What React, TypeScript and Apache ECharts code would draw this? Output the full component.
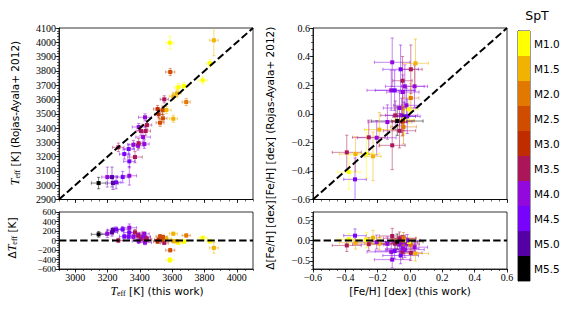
import React, { useEffect, useRef } from 'react';
import * as echarts from 'echarts';

// ---------- data ----------
const SPT_LABELS = ['M1.0', 'M1.5', 'M2.0', 'M2.5', 'M3.0', 'M3.5', 'M4.0', 'M4.5', 'M5.0', 'M5.5'];
// gnuplot colormap sampled at 10 discrete levels
const SPT_RGB: number[][] = [
  [255, 255, 0], [240, 179, 0], [225, 120, 0], [208, 76, 0], [190, 44, 0],
  [170, 22, 87], [147, 9, 221], [120, 3, 251], [85, 0, 164], [0, 0, 0],
];

// Teff: this work vs Rojas-Ayala+ 2012
const teffThis = [3586, 3858, 3834, 3588, 3789, 3673, 3638, 3607, 3630, 3687, 3551, 3564, 3510, 3541, 3516, 3543, 3607, 3525, 3432, 3444, 3436, 3407, 3393, 3420, 3389, 3393, 3428, 3360, 3267, 3331, 3304, 3370, 3335, 3335, 3294, 3199, 3228, 3253, 3234, 3145];
const teffThisErr = [25, 28, 22, 28, 28, 25, 25, 25, 25, 25, 25, 30, 25, 25, 25, 25, 25, 25, 40, 30, 30, 30, 40, 45, 35, 30, 30, 35, 35, 35, 30, 45, 35, 45, 35, 35, 35, 30, 35, 45];
const teffRA = [3997, 4014, 3853, 3792, 3734, 3694, 3685, 3622, 3643, 3582, 3601, 3526, 3533, 3524, 3496, 3468, 3465, 3437, 3475, 3421, 3379, 3379, 3407, 3337, 3276, 3293, 3288, 3283, 3265, 3253, 3218, 3197, 3167, 3066, 3057, 3057, 3057, 3020, 3015, 3015];
const teffRAErr = [45, 108, 25, 25, 25, 25, 25, 25, 25, 25, 25, 25, 25, 30, 25, 25, 25, 25, 25, 30, 30, 30, 25, 35, 30, 35, 30, 30, 30, 35, 35, 40, 45, 65, 40, 70, 70, 45, 45, 40];
const teffSpt = [0, 1, 0, 3, 0, 0, 0, 1, 1, 2, 5, 1, 4, 3, 4, 3, 1, 3, 6, 5, 5, 5, 6, 6, 6, 5, 6, 6, 5, 7, 7, 5, 7, 6, 7, 6, 8, 7, 8, 9];

// [Fe/H]: this work vs Rojas-Ayala+ 2012
const fehThis = [-0.110, -0.058, 0.005, 0.034, -0.046, 0.028, -0.032, -0.116, -0.095, -0.044, 0.005, -0.022, -0.065, -0.007, -0.091, -0.052, -0.036, -0.017, -0.036, -0.048, -0.044, -0.079, -0.140, -0.040, -0.065, -0.190, -0.206, -0.255, -0.110, -0.391, -0.337, -0.229, -0.378, -0.340, -0.270];
const fehThisErr = [0.11, 0.11, 0.07, 0.08, 0.06, 0.08, 0.12, 0.15, 0.12, 0.10, 0.05, 0.08, 0.10, 0.06, 0.09, 0.10, 0.07, 0.08, 0.06, 0.06, 0.07, 0.16, 0.12, 0.08, 0.10, 0.09, 0.12, 0.10, 0.08, 0.09, 0.10, 0.05, 0.07, 0.07, 0.08];
const fehRA = [0.360, 0.311, 0.311, 0.353, 0.231, 0.192, 0.192, 0.164, 0.164, 0.152, 0.110, 0.059, 0.040, 0.031, -0.011, -0.011, -0.019, -0.018, -0.039, -0.056, -0.050, -0.051, -0.058, -0.092, -0.119, -0.111, -0.168, -0.165, -0.221, -0.270, -0.282, -0.298, -0.408, -0.459, -0.280];
const fehRAErr = [0.17, 0.17, 0.17, 0.17, 0.17, 0.15, 0.15, 0.14, 0.14, 0.12, 0.10, 0.12, 0.12, 0.10, 0.10, 0.12, 0.10, 0.12, 0.10, 0.10, 0.10, 0.10, 0.12, 0.12, 0.12, 0.12, 0.12, 0.12, 0.17, 0.12, 0.12, 0.17, 0.12, 0.15, 0.17];
const fehSpt = [6, 7, 5, 1, 5, 6, 6, 6, 7, 6, 2, 6, 6, 0, 5, 6, 8, 7, 0, 3, 4, 9, 6, 2, 5, 1, 6, 5, 5, 5, 1, 1, 0, 7, 0];

// axis ranges and tick values
const TEFF_RANGE = [2900, 4100];
const DTEFF_RANGE = [-600, 600];
const FEH_RANGE = [-0.6, 0.6];
const DFEH_RANGE = [-0.7, 0.7];
const teffXTicks = [3000, 3200, 3400, 3600, 3800, 4000];
const teffYTicks = [2900, 3000, 3100, 3200, 3300, 3400, 3500, 3600, 3700, 3800, 3900, 4000, 4100];
const dTeffTicks = [-600, -400, -200, 0, 200, 400, 600];
const fehTicks = [-0.6, -0.4, -0.2, 0, 0.2, 0.4, 0.6];
const dFehTicks = [-0.5, 0, 0.5];

// ---------- helpers ----------
const SERIF = "'Liberation Serif', 'DejaVu Serif', serif";
const SANS = "'DejaVu Sans', sans-serif";
const rgba = (c: number[], a: number) => `rgba(${c[0]},${c[1]},${c[2]},${a})`;
const minus = (s: string) => s.replace('-', '\u2212');
const fmtInt = (v: number) => minus(String(Math.round(v)));
const fmt1 = (v: number) => minus((Math.abs(v) < 1e-9 ? 0 : v).toFixed(1));

function axisPair(dim: 'x' | 'y', gridIndex: number, range: number[], majors: number[], minorInterval: number, showLabels: boolean, fmt: (v: number) => string, fontSize = 10) {
  const position = dim === 'x' ? 'bottom' : 'left';
  const major = {
    type: 'value', gridIndex, min: range[0], max: range[1], position, offset: 0,
    axisLine: { show: true, onZero: false, lineStyle: { color: '#000', width: 0.8 } },
    axisTick: { show: true, customValues: majors, length: 3.5, lineStyle: { color: '#000', width: 0.8 } },
    axisLabel: {
      show: showLabels, customValues: majors, formatter: fmt, fontFamily: SERIF, fontSize, color: '#000', margin: 3,
      showMinLabel: true, showMaxLabel: true, hideOverlap: false, lineHeight: fontSize, interval: 0,
    },
    splitLine: { show: false },
  };
  const minor = {
    type: 'value', gridIndex, min: range[0], max: range[1], interval: minorInterval, position, offset: 0,
    axisLine: { show: false, onZero: false },
    axisTick: { show: true, length: 2, lineStyle: { color: '#000', width: 0.6 } },
    axisLabel: { show: false },
    splitLine: { show: false },
  };
  return [major, minor];
}

function errRender(params: any, api: any) {
  const x = api.value(0), y = api.value(1), xe = api.value(2), ye = api.value(3), c = api.value(4);
  const style = { stroke: rgba(SPT_RGB[c], 0.5), lineWidth: 1, fill: null };
  const a = api.coord([x - xe, y]), b = api.coord([x + xe, y]);
  const d = api.coord([x, y - ye]), u = api.coord([x, y + ye]);
  const cap = 1.6;
  const ln = (x1: number, y1: number, x2: number, y2: number) => ({ type: 'line', shape: { x1, y1, x2, y2 }, style });
  return {
    type: 'group',
    children: [
      ln(a[0], a[1], b[0], b[1]),
      ln(d[0], d[1], u[0], u[1]),
      ln(a[0], a[1] - cap, a[0], a[1] + cap),
      ln(b[0], b[1] - cap, b[0], b[1] + cap),
      ln(d[0] - cap, d[1], d[0] + cap, d[1]),
      ln(u[0] - cap, u[1], u[0] + cap, u[1]),
    ],
  };
}

function panelSeries(g: number, xs: number[], xe: number[], ys: number[], ye: number[], spt: number[], refLine: number[][]) {
  return [
    {
      type: 'custom', xAxisIndex: 2 * g, yAxisIndex: 2 * g, renderItem: errRender, clip: true, z: 1,
      encode: { x: 0, y: 1 },
      data: xs.map((x, i) => [x, ys[i], xe[i], ye[i], spt[i]]),
    },
    {
      type: 'scatter', xAxisIndex: 2 * g, yAxisIndex: 2 * g, symbol: 'rect', symbolSize: 4, z: 2, clip: true,
      data: xs.map((x, i) => [x, ys[i], spt[i]]),
      itemStyle: { color: (p: any) => rgba(SPT_RGB[p.value[2]], 1), opacity: 1 },
    },
    {
      type: 'line', xAxisIndex: 2 * g, yAxisIndex: 2 * g, z: 3, symbol: 'none', silent: true,
      data: refLine,
      lineStyle: { color: '#000', width: 2, type: [7.4, 3.2] },
    },
  ];
}

export default function App() {
  const ref = useRef<HTMLDivElement>(null);
  useEffect(() => {
    if (!ref.current) return;
    const chart = echarts.init(ref.current, undefined, { renderer: 'svg' });

    const dTeff = teffThis.map((v, i) => v - teffRA[i]);
    const dTeffErr = teffThis.map((_, i) => Math.sqrt(teffThisErr[i] ** 2 + teffRAErr[i] ** 2));
    const dFeh = fehThis.map((v, i) => v - fehRA[i]);
    const dFehErr = fehThis.map((_, i) => Math.sqrt(fehThisErr[i] ** 2 + fehRAErr[i] ** 2));

    const gridBase = { show: true, borderColor: '#000', borderWidth: 0.8, backgroundColor: 'transparent', containLabel: false };
    const grids = [
      { ...gridBase, left: 59, top: 28, width: 194, height: 171.5 },
      { ...gridBase, left: 59, top: 212, width: 194, height: 57 },
      { ...gridBase, left: 313, top: 28, width: 194, height: 171.5 },
      { ...gridBase, left: 313, top: 212, width: 194, height: 57 },
      { ...gridBase, left: 518, top: 31, width: 12, height: 250 },
    ];

    const xAxes: any[] = [
      ...axisPair('x', 0, TEFF_RANGE, teffXTicks, 50, false, fmtInt),
      ...axisPair('x', 1, TEFF_RANGE, teffXTicks, 50, true, fmtInt),
      ...axisPair('x', 2, FEH_RANGE, fehTicks, 0.05, false, fmt1),
      ...axisPair('x', 3, FEH_RANGE, fehTicks, 0.05, true, fmt1),
      { type: 'value', gridIndex: 4, min: 0, max: 1, show: false },
    ];
    const yAxes: any[] = [
      ...axisPair('y', 0, TEFF_RANGE, teffYTicks, 20, true, fmtInt),
      ...axisPair('y', 1, DTEFF_RANGE, dTeffTicks, 50, true, fmtInt, 9),
      ...axisPair('y', 2, FEH_RANGE, fehTicks, 0.05, true, fmt1),
      ...axisPair('y', 3, DFEH_RANGE, dFehTicks, 0.1, true, fmt1),
      {
        type: 'category', gridIndex: 4, data: SPT_LABELS, inverse: true, position: 'right',
        axisLine: { show: true, lineStyle: { color: '#000', width: 0.8 } },
        axisTick: { show: true, alignWithLabel: true, length: 3.5, lineStyle: { color: '#000', width: 0.8 } },
        axisLabel: { fontFamily: SANS, fontSize: 10.5, color: '#000', margin: 4, interval: 0 },
        splitLine: { show: false },
      },
    ];

    const series: any[] = [
      ...panelSeries(0, teffThis, teffThisErr, teffRA, teffRAErr, teffSpt, [[TEFF_RANGE[0], TEFF_RANGE[0]], [TEFF_RANGE[1], TEFF_RANGE[1]]]),
      ...panelSeries(1, teffThis, teffThisErr, dTeff, dTeffErr, teffSpt, [[TEFF_RANGE[0], 0], [TEFF_RANGE[1], 0]]),
      ...panelSeries(2, fehThis, fehThisErr, fehRA, fehRAErr, fehSpt, [[FEH_RANGE[0], FEH_RANGE[0]], [FEH_RANGE[1], FEH_RANGE[1]]]),
      ...panelSeries(3, fehThis, fehThisErr, dFeh, dFehErr, fehSpt, [[FEH_RANGE[0], 0], [FEH_RANGE[1], 0]]),
      {
        type: 'bar', xAxisIndex: 8, yAxisIndex: 8, barWidth: '100%', barCategoryGap: '0%', silent: true,
        data: SPT_LABELS.map((_, i) => ({ value: 1, itemStyle: { color: rgba(SPT_RGB[i], 1) } })),
      },
    ];

    const rich = {
      i: { fontFamily: SERIF, fontStyle: 'italic', fontSize: 12, fill: '#000' },
      s: { fontFamily: SERIF, fontSize: 8, fill: '#000', verticalAlign: 'bottom', padding: [5, 0, 0, 0] },
      n: { fontFamily: SANS, fontSize: 10.5, fill: '#000' },
    };
    const label = (text: string, x: number, y: number, rot: number) => ({
      type: 'text', x, y, rotation: rot, silent: true,
      style: { text, rich, align: 'center', verticalAlign: 'middle', fontFamily: SANS, fontSize: 10.5, fill: '#000' },
    });

    chart.setOption({
      animation: false,
      grid: grids,
      xAxis: xAxes,
      yAxis: yAxes,
      series,
      graphic: [
        label('{i|T}{s|eff}{n| [K] (Rojas-Ayala+ 2012)}', 15, 113, Math.PI / 2),
        label('{n|\u0394}{i|T}{s|eff}{n| [K]}', 12, 238, Math.PI / 2),
        label('{i|T}{s|eff}{n| [K] (this work)}', 157, 291, 0),
        label('{n|[Fe/H] [dex] (Rojas-Ayala+ 2012)}', 270, 113, Math.PI / 2),
        label('{n|\u0394[Fe/H] [dex]}', 270, 235, Math.PI / 2),
        label('{n|[Fe/H] [dex] (this work)}', 410, 291, 0),
        { type: 'text', x: 537, y: 15, silent: true, style: { text: 'SpT', fontFamily: SANS, fontSize: 12.5, fill: '#000', align: 'center', verticalAlign: 'middle' } },
      ],
    });
    return () => chart.dispose();
  }, []);
  return <div ref={ref} style={{ width: 581, height: 311, position: 'absolute', left: 0, top: 0, background: '#fff' }} />;
}
